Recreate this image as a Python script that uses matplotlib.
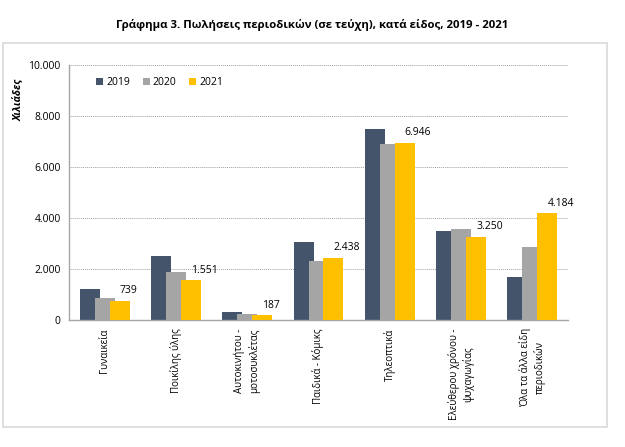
import numpy as np
import matplotlib.pyplot as plt
from matplotlib.patches import Rectangle

plt.rcParams['font.family'] = ['Open Sans', 'DejaVu Sans']

# Data (thousands of issues)
categories = ['Γυναικεία', 'Ποικίλης ύλης', 'Αυτοκινήτου -\nμοτοσυκλέτας', 'Παιδικά - Κόμικς',
              'Τηλεοπτικά', 'Ελεύθερου χρόνου -\nψυχαγωγίας', 'Όλα τα άλλα είδη\nπεριοδικών']
years = ['2019', '2020', '2021']
v2019 = [1230, 2500, 330, 3070, 7480, 3480, 1690]
v2020 = [850, 1870, 225, 2330, 6910, 3560, 2850]
v2021 = [739, 1551, 187, 2438, 6946, 3250, 4184]
colors = ['#44546A', '#A5A5A5', '#FFC000']

fig = plt.figure(figsize=(6.25, 4.47), dpi=100)
fig.patches.append(Rectangle((3 / 625, 1 - 427 / 447), 604 / 625, 384 / 447,
                             transform=fig.transFigure, fill=False,
                             edgecolor='#D9D9D9', linewidth=1.2))
fig.text(0.5, 1 - 25 / 447, 'Γράφημα 3. Πωλήσεις περιοδικών (σε τεύχη), κατά είδος, 2019 - 2021',
         ha='center', va='center', fontsize=8.2, fontweight='bold')

ax = fig.add_axes([69 / 625, 1 - 320 / 447, 499 / 625, 255 / 447])
x = np.arange(len(categories))
w = 0.28
step = 0.21
for i, (vals, yr) in enumerate(zip([v2019, v2020, v2021], years)):
    ax.bar(x + (i - 1) * step, vals, width=w, color=colors[i], label=yr, zorder=2 + i)

for xi, v in zip(x, v2021):
    ax.text(xi + step, v + 400, f'{v:,}'.replace(',', '.'), ha='left', va='center', fontsize=7.5)

ax.set_xlim(-0.5, len(categories) - 0.5)
ax.set_ylim(0, 10000)
ax.set_yticks(range(0, 10001, 2000))
ax.set_yticklabels([f'{t:,}'.replace(',', '.') for t in range(0, 10001, 2000)], fontsize=7.5)
ax.grid(axis='y', linestyle=(0, (1, 1)), color='#A0A0A0', linewidth=0.7, zorder=0)
ax.set_xticks(x)
ax.set_xticklabels(categories, rotation=90, fontsize=7, va='top', linespacing=1.3)
ax.tick_params(axis='both', length=0, pad=6)
for s in ['top', 'right']:
    ax.spines[s].set_visible(False)
for s in ['left', 'bottom']:
    ax.spines[s].set_color('#A6A6A6')
    ax.spines[s].set_linewidth(1.0)

fig.text(18 / 625, 1 - 100 / 447, 'Χιλιάδες', rotation=90, ha='center', va='center',
         fontsize=7.5, fontweight='bold', fontstyle='italic')

ax.legend(loc='upper left', bbox_to_anchor=(0.035, 0.99), ncol=3, frameon=False,
          fontsize=7.5, handlelength=0.7, handleheight=0.7, handletextpad=0.3,
          columnspacing=1.2)

fig.savefig('out.png', dpi=100)
